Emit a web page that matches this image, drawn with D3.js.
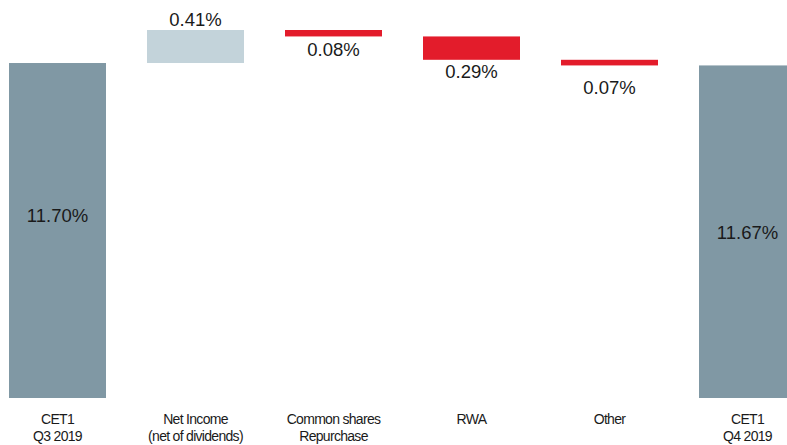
<!DOCTYPE html>
<html>
<head>
<meta charset="utf-8">
<script src="https://cdn.jsdelivr.net/npm/d3@7/dist/d3.min.js"></script>
<style>
  html, body { margin: 0; padding: 0; background: #fff; }
  svg { display: block; }
</style>
</head>
<body>
<svg id="chart" width="787" height="445"></svg>
<script>
// ---- data ----
const categories = ["CET1 Q3 2019", "Net Income (net of dividends)", "Common shares Repurchase", "RWA", "Other", "CET1 Q4 2019"];
const categoryLines = [["CET1", "Q3 2019"], ["Net Income", "(net of dividends)"], ["Common shares", "Repurchase"], ["RWA"], ["Other"], ["CET1", "Q4 2019"]];
const values = [11.70, 0.41, -0.08, -0.29, -0.07, 11.67];
const barTypes = ["total", "increase", "decrease", "decrease", "decrease", "total"];
const valueLabels = ["11.70%", "0.41%", "0.08%", "0.29%", "0.07%", "11.67%"];

// ---- layout ----
const W = 787, H = 445;
const colors = { total: "#8098a4", increase: "#c3d3da", decrease: "#e31c2b" };
const labelDy = [-8.5, -4, 20, 18.5, 29, 7.5]; // label baseline offsets

const svg = d3.select("#chart");

const x = d3.scaleBand()
  .domain(categories)
  .range([-11.5, 816.5])
  .paddingInner(41 / 138)
  .paddingOuter(20.5 / 138);

const y = d3.scaleLinear().domain([7.54, 12.11]).range([398, 30]);

// waterfall computation
let running = 0;
const bars = categories.map((c, i) => {
  let y0, y1;
  if (barTypes[i] === "total") {
    y0 = y.domain()[0]; y1 = values[i]; running = values[i];
  } else {
    y0 = running; y1 = running + values[i]; running = y1;
  }
  return { c, i, lo: Math.min(y0, y1), hi: Math.max(y0, y1), type: barTypes[i] };
});

svg.append("g").selectAll("rect").data(bars).join("rect")
  .attr("x", d => x(d.c))
  .attr("width", x.bandwidth())
  .attr("y", d => y(d.hi))
  .attr("height", d => y(d.lo) - y(d.hi))
  .attr("fill", d => colors[d.type]);

svg.append("g").selectAll("text").data(bars).join("text")
  .attr("x", d => x(d.c) + x.bandwidth() / 2)
  .attr("y", d => {
    if (d.type === "total") return (y(d.lo) + y(d.hi)) / 2 + labelDy[d.i];
    if (d.type === "increase") return y(d.hi) + labelDy[d.i];
    return y(d.lo) + labelDy[d.i];
  })
  .attr("text-anchor", "middle")
  .attr("font-family", "'Liberation Sans', Arial, sans-serif")
  .attr("font-size", 18.5)
  .attr("fill", "#1a1a1a")
  .text(d => valueLabels[d.i]);

// category axis labels
const cat = svg.append("g").selectAll("text").data(categories).join("text")
  .attr("x", d => x(d) + x.bandwidth() / 2)
  .attr("y", 424)
  .attr("text-anchor", "middle")
  .attr("font-family", "'Liberation Sans Narrow', 'Liberation Sans', Arial, sans-serif")
  .attr("font-size", 14)
  .attr("letter-spacing", -0.7)
  .attr("fill", "#1a1a1a");
cat.each(function(d, i) {
  const t = d3.select(this);
  categoryLines[i].forEach((line, k) => {
    t.append("tspan")
      .attr("x", x(d) + x.bandwidth() / 2)
      .attr("dy", k === 0 ? 0 : 17)
      .text(line);
  });
});
</script>
</body>
</html>
